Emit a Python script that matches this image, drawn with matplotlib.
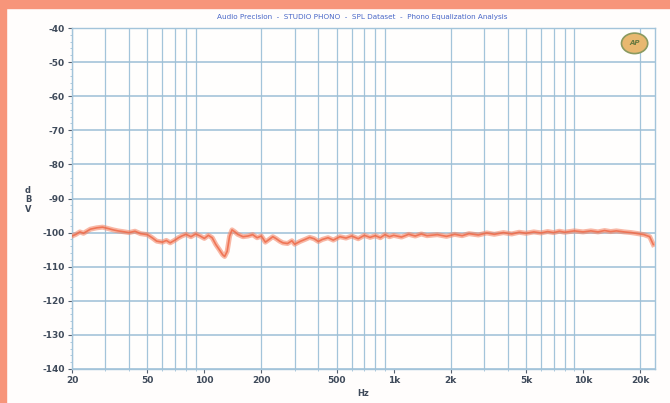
import matplotlib
matplotlib.use("Agg")
import matplotlib.pyplot as plt
from matplotlib.ticker import FixedLocator, NullFormatter, MultipleLocator
from matplotlib.patches import Ellipse, Rectangle

# ---- data ----
freq_hz = [20, 21, 22, 23, 25, 27, 29, 31, 33, 35, 38, 40, 43, 46, 50, 53, 56, 60,
           63, 66, 70, 73, 76, 80, 85, 90, 95, 100, 105, 110, 115, 120, 125, 128,
           132, 136, 140, 145, 150, 160, 170, 180, 190, 200, 210, 220, 230, 240,
           250, 260, 275, 290, 300, 320, 340, 360, 380, 400, 420, 450, 480, 520,
           560, 600, 650, 700, 750, 800, 850, 900, 950, 1000, 1100, 1200, 1300,
           1400, 1500, 1700, 1900, 2100, 2300, 2500, 2800, 3100, 3400, 3800, 4200,
           4600, 5000, 5500, 6000, 6500, 7000, 7500, 8000, 9000, 10000, 11000,
           12000, 13000, 14000, 15000, 16500, 18000, 19500, 21000, 22500, 23500]
level_db = [-101.0, -100.5, -99.8, -100.2, -99.0, -98.6, -98.4, -98.8, -99.2, -99.5,
            -99.8, -100.0, -99.6, -100.3, -100.6, -101.5, -102.5, -102.8, -102.3,
            -103.0, -102.2, -101.5, -101.0, -100.5, -101.2, -100.4, -101.0, -101.7,
            -100.8, -101.5, -103.5, -105.0, -106.5, -107.0, -105.5, -101.0, -99.2,
            -99.8, -100.5, -101.2, -101.0, -100.6, -101.5, -101.0, -102.8, -102.0,
            -101.2, -101.8, -102.5, -103.0, -103.2, -102.4, -103.4, -102.6, -102.0,
            -101.4, -101.8, -102.6, -102.0, -101.5, -102.2, -101.2, -101.6, -101.0,
            -101.8, -100.8, -101.4, -100.9, -101.5, -100.6, -101.2, -100.8, -101.3,
            -100.5, -101.0, -100.4, -100.9, -100.6, -101.1, -100.5, -100.9, -100.3,
            -100.7, -100.1, -100.5, -100.0, -100.4, -99.9, -100.2, -99.8, -100.1,
            -99.7, -100.0, -99.6, -99.9, -99.5, -99.8, -99.5, -99.8, -99.4, -99.7,
            -99.5, -99.8, -100.0, -100.3, -100.6, -101.2, -103.5]

x_ticks = [20, 50, 100, 200, 500, 1000, 2000, 5000, 10000, 20000]
x_labels = ["20", "50", "100", "200", "500", "1k", "2k", "5k", "10k", "20k"]
y_ticks = [-40, -50, -60, -70, -80, -90, -100, -110, -120, -130, -140]
title_text = "Audio Precision  -  STUDIO PHONO  -  SPL Dataset  -  Phono Equalization Analysis"

# ---- figure ----
fig = plt.figure(figsize=(6.70, 4.03), dpi=100)
fig.patch.set_facecolor("#fffdfc")
fig.patches.append(Rectangle((0, 1 - 8 / 403), 1, 8 / 403, transform=fig.transFigure,
                             color="#f7957a", zorder=0))
fig.patches.append(Rectangle((0, 0), 6 / 670, 1, transform=fig.transFigure,
                             color="#f7957a", zorder=0))

ax = fig.add_axes([72 / 670, 1 - 369 / 403, (655 - 72) / 670, (369 - 28) / 403])
ax.set_facecolor("#fffefd")
ax.set_xscale("log")
ax.set_xlim(20, 24000)
ax.set_ylim(-140, -40)

minor_x = [m * 10 ** e for e in range(1, 5) for m in range(2, 10)]
minor_x = [v for v in minor_x if 20 <= v <= 24000]
for v in minor_x:
    ax.axvline(v, color="#a3c4da", lw=0.9, zorder=1)
for yv in y_ticks:
    ax.axhline(yv, color="#9dbfd6", lw=1.1, zorder=1)

ax.plot(freq_hz, level_db, color="#f4886a", lw=3.6, alpha=0.6, zorder=3,
        solid_joinstyle="round")
ax.plot(freq_hz, level_db, color="#ee6a48", lw=1.2, alpha=0.85, zorder=4)

ax.xaxis.set_major_locator(FixedLocator(x_ticks))
ax.set_xticklabels(x_labels)
ax.xaxis.set_minor_formatter(NullFormatter())
ax.set_yticks(y_ticks)
ax.set_yticklabels([str(v) for v in y_ticks])
ax.yaxis.set_minor_locator(MultipleLocator(2))
ax.tick_params(axis="both", which="major", labelsize=6.5, colors="#556070",
               length=3, width=0.8, pad=2)
ax.tick_params(axis="both", which="minor", length=1.5, width=0.6, colors="#9fc0d8")
for lab in ax.get_xticklabels() + ax.get_yticklabels():
    lab.set_fontweight("bold")
    lab.set_color("#3f4a5a")
for s in ax.spines.values():
    s.set_color("#a3c4da")
    s.set_linewidth(1.0)

ax.set_xlabel("Hz", fontsize=6, color="#3f4a5a", fontweight="bold", labelpad=3)
fig.text(28 / 670, 1 - 200 / 403, "d\nB\nV", fontsize=6, color="#3f4a5a",
         fontweight="bold", ha="center", va="center", linespacing=1.1)
fig.text(362 / 670, 1 - 17 / 403, title_text, fontsize=5.2, color="#4a68c8",
         ha="center", va="center")

logo = Ellipse((0.965, 0.955), 0.045, 0.06, transform=ax.transAxes,
               facecolor="#e8b870", edgecolor="#8a9a60", lw=1.2, zorder=5)
ax.add_patch(logo)
ax.text(0.965, 0.955, "AP", transform=ax.transAxes, fontsize=5, color="#6a7a40",
        ha="center", va="center", fontweight="bold", zorder=6, style="italic")

fig.savefig("out.png", dpi=100, facecolor=fig.get_facecolor())
